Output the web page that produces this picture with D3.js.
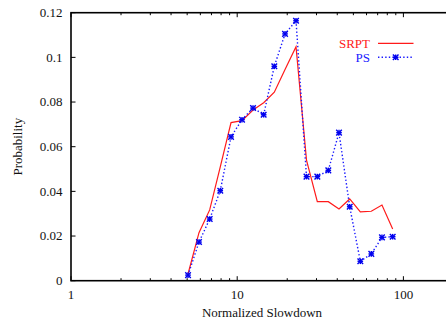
<!DOCTYPE html>
<html>
<head>
<meta charset="utf-8">
<script src="https://cdn.jsdelivr.net/npm/d3@7/dist/d3.min.js"></script>
<style>
  html, body { margin: 0; padding: 0; background: #fff; }
  svg { display: block; }
</style>
</head>
<body>
<svg id="chart" width="446" height="324" font-family="'Liberation Serif', Tinos, 'Times New Roman', Times, 'DejaVu Serif', serif"></svg>
<script>
// Slowdown bins (log-spaced) shared by both policies
const slowdown = [5.06, 5.89, 6.83, 7.91, 9.18, 10.69, 12.45, 14.43, 16.72, 19.40,
                  22.59, 26.12, 30.34, 35.33, 40.98, 47.53, 55.05, 64.1, 74.3, 86.2];
const srptProb = [0.003, 0.0215, 0.0317, 0.051, 0.0708, 0.0717, 0.0764, 0.0797, 0.0844, 0.0946,
                  0.1048, 0.054, 0.0354, 0.0354, 0.0321, 0.0366, 0.0308, 0.0311, 0.0339, 0.0232];
const psProb   = [0.0025, 0.0173, 0.0276, 0.0403, 0.0644, 0.0721, 0.0773, 0.0743, 0.0960, 0.1105,
                  0.1164, 0.0466, 0.0466, 0.0494, 0.0663, 0.0331, 0.0087, 0.0120, 0.0194, 0.0197];
const seriesNames = ["SRPT", "PS"];
const yTickValues = [0, 0.02, 0.04, 0.06, 0.08, 0.1, 0.12];
const yTickLabels = ["0", "0.02", "0.04", "0.06", "0.08", "0.1", "0.12"];
const xTickValues = [1, 10, 100];
const xTickLabels = ["1", "10", "100"];

(function () {
  const svg = d3.select("#chart");
  const serif = "'Liberation Serif', Tinos, 'Times New Roman', Times, 'DejaVu Serif', serif";
  const mLeft = 71, mTop = 12.7, mBottom = 280.7;
  const decade = 166.2;

  const x = d3.scaleLog().domain([1, 1000]).range([mLeft, mLeft + 3 * decade]);
  const y = d3.scaleLinear().domain([0, 0.12]).range([mBottom, mTop]);

  const mRight = x(1000);
  const axisColor = "#000";

  // Minor ticks on bottom and top edges
  const minor = [];
  for (let dec = 1; dec < 1000; dec *= 10) {
    for (let m = 2; m <= 9; m++) minor.push(dec * m);
  }
  const tickG = svg.append("g").attr("stroke", axisColor).attr("stroke-width", 1);
  minor.forEach(v => {
    tickG.append("line").attr("x1", x(v)).attr("x2", x(v)).attr("y1", mBottom).attr("y2", mBottom - 2.5);
    tickG.append("line").attr("x1", x(v)).attr("x2", x(v)).attr("y1", mTop).attr("y2", mTop + 2.5);
  });
  xTickValues.forEach(v => {
    tickG.append("line").attr("x1", x(v)).attr("x2", x(v)).attr("y1", mBottom).attr("y2", mBottom - 4.5);
    tickG.append("line").attr("x1", x(v)).attr("x2", x(v)).attr("y1", mTop).attr("y2", mTop + 4.5);
  });
  yTickValues.forEach(v => {
    tickG.append("line").attr("x1", mLeft).attr("x2", mLeft + 4.5).attr("y1", y(v)).attr("y2", y(v));
  });

  // Frame
  svg.append("rect")
    .attr("x", mLeft).attr("y", mTop)
    .attr("width", mRight - mLeft).attr("height", mBottom - mTop)
    .attr("fill", "none").attr("stroke", axisColor).attr("stroke-width", 1.6);

  // Tick labels
  svg.append("g").selectAll("text").data(yTickValues).join("text")
    .attr("font-family", serif)
    .attr("x", 62.5).attr("y", d => y(d)).attr("dy", "0.33em")
    .attr("text-anchor", "end").attr("font-size", 13).attr("fill", "#111")
    .text((d, i) => yTickLabels[i]);

  svg.append("g").selectAll("text").data(xTickValues).join("text")
    .attr("font-family", serif)
    .attr("x", d => x(d)).attr("y", 298.5)
    .attr("text-anchor", "middle").attr("font-size", 13).attr("fill", "#111")
    .text((d, i) => xTickLabels[i]);

  // Axis titles
  svg.append("text").attr("x", 262).attr("y", 317)
    .attr("font-family", serif)
    .attr("text-anchor", "middle").attr("font-size", 13).attr("fill", "#111")
    .text("Normalized Slowdown");
  svg.append("text")
    .attr("font-family", serif)
    .attr("transform", `translate(22,${(mTop + mBottom) / 2}) rotate(-90)`)
    .attr("text-anchor", "middle").attr("font-size", 13).attr("fill", "#111")
    .text("Probability");

  const line = d3.line().x(d => x(d[0])).y(d => y(d[1]));
  const srptPts = slowdown.map((s, i) => [s, srptProb[i]]);
  const psPts = slowdown.map((s, i) => [s, psProb[i]]);

  // SRPT: solid red
  svg.append("path").datum(srptPts).attr("d", line)
    .attr("fill", "none").attr("stroke", "#ff1a1a").attr("stroke-width", 1.2)
    .attr("stroke-linejoin", "miter");

  // PS: dotted blue with asterisk markers
  svg.append("path").datum(psPts).attr("d", line)
    .attr("fill", "none").attr("stroke", "#1a1aff").attr("stroke-width", 1.4)
    .attr("stroke-dasharray", "1.4,2.2");

  function star(g, cx, cy) {
    const r = 2.8;
    const p = g.append("g").attr("stroke", "#0000ee").attr("stroke-width", 1.4);
    p.append("line").attr("x1", cx - r).attr("x2", cx + r).attr("y1", cy).attr("y2", cy);
    p.append("line").attr("x1", cx).attr("x2", cx).attr("y1", cy - r).attr("y2", cy + r);
    p.append("line").attr("x1", cx - r).attr("x2", cx + r).attr("y1", cy - r).attr("y2", cy + r);
    p.append("line").attr("x1", cx - r).attr("x2", cx + r).attr("y1", cy + r).attr("y2", cy - r);
  }
  const markG = svg.append("g");
  psPts.forEach(d => star(markG, x(d[0]), y(d[1])));

  // Legend
  const legend = svg.append("g");
  const legendRows = [
    { name: seriesNames[0], color: "#ff1a1a", ly: 43.3, dotted: false },
    { name: seriesNames[1], color: "#1a1aff", ly: 57.3, dotted: true }
  ];
  legendRows.forEach(r => {
    legend.append("text").attr("x", 370).attr("y", r.ly).attr("dy", "0.35em")
      .attr("font-family", serif)
      .attr("text-anchor", "end").attr("font-size", 13).attr("fill", r.color)
      .text(r.name);
    const l = legend.append("line").attr("x1", 378).attr("x2", 413.5)
      .attr("y1", r.ly).attr("y2", r.ly).attr("stroke", r.color);
    if (r.dotted) {
      l.attr("stroke-width", 1.4).attr("stroke-dasharray", "1.4,2.2");
      star(legend, 395.7, r.ly);
    } else {
      l.attr("stroke-width", 1.2);
    }
  });
})();
</script>
</body>
</html>
